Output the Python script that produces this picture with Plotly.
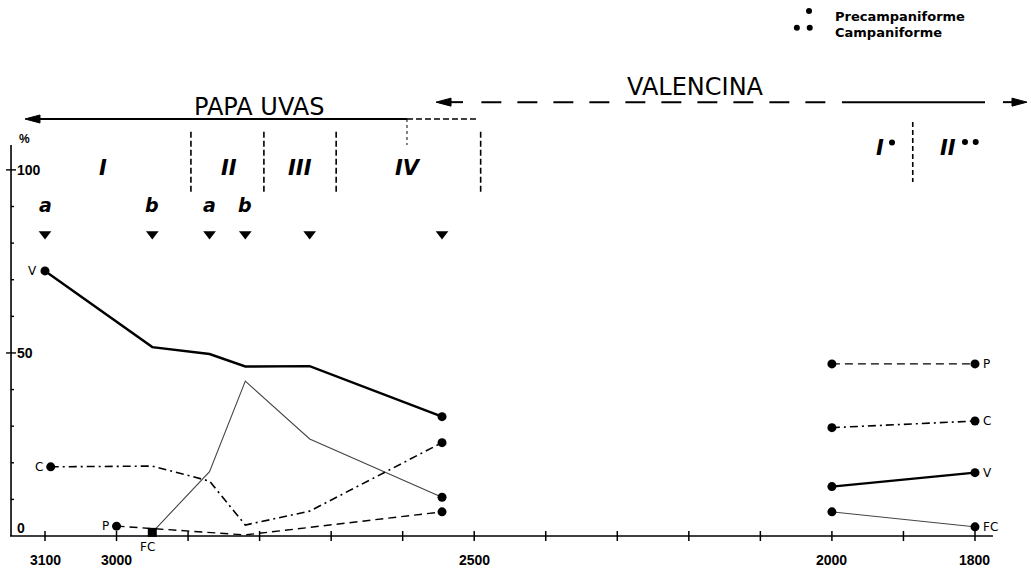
import plotly.graph_objects as go

# ---- data: Papa Uvas sequence (BC dates of samples, % values) ----
papa_years = [3100, 2950, 2870, 2820, 2730, 2545]
papa_v = [72.4, 51.6, 49.7, 46.3, 46.4, 32.6]
papa_c_years = [3092, 2950, 2870, 2820, 2730, 2545]
papa_c = [18.9, 19.1, 15.0, 3.0, 6.8, 25.5]
papa_fc_years = [2950, 2870, 2820, 2730, 2545]
papa_fc = [1.0, 17.6, 42.3, 26.5, 10.6]
papa_p_years = [3000, 2820, 2545]
papa_p = [2.7, 0.3, 6.6]

# ---- data: Valencina ----
val_years = [2000, 1800]
val_v = [13.5, 17.3]
val_fc = [6.6, 2.5]
val_c = [29.6, 31.4]
val_p = [47.0, 47.0]

sample_letters = ["a", "b", "a", "b"]
x_ticks = list(range(3100, 1799, -100))
x_labels = ["3100", "3000", "2500", "2000", "1800"]
y_ticks = list(range(10, 101, 10))
y_labels = ["0", "50", "100"]

papa_phases = ["I", "II", "III", "IV"]
papa_phase_x = [3019, 2843, 2744, 2593]
papa_bounds = [2896, 2794, 2693, 2491]
val_phases = ["I", "II"]
val_phase_x = [1933, 1838]
val_bound = 1887
# dots marking pre-Beaker (one) and Beaker (two) phases
phase_dot_x = [1916, 1814, 1799]
phase_dot_y = [107.5, 107.6, 107.6]
key_dot_x = [2032, 2049, 2031]
key_dot_y = [143.4, 138.8, 138.8]
key_labels = ["Precampaniforme", "Campaniforme"]

INK = "#000000"
X_RANGE = [3162.9, 1721.7]
Y_RANGE = [-10.1, 146.4]
AXIS_X = 3147.5

fig = go.Figure()


def series(x, y, width, dash, color=INK, symbols=None):
    fig.add_trace(go.Scatter(
        x=x, y=y, mode="lines", cliponaxis=False,
        line=dict(color=color, width=width, dash=dash),
        hoverinfo="skip", showlegend=False))
    fig.add_trace(go.Scatter(
        x=[x[0], x[-1]], y=[y[0], y[-1]], mode="markers", cliponaxis=False,
        marker=dict(color=INK, size=9, opacity=1,
                    symbol=symbols or "circle", line=dict(width=0)),
        hoverinfo="skip", showlegend=False))


DASHDOT = "8px,4px,2px,4px"
DASH = "8px,5px"

# Papa Uvas curves
series(papa_years, papa_v, 2.4, "solid")
series(papa_fc_years, papa_fc, 1.1, "solid", color="#444444", symbols=["square", "circle"])
series(papa_c_years, papa_c, 1.6, DASHDOT)
series(papa_p_years, papa_p, 1.4, DASH)

# Valencina curves
series(val_years, val_p, 1.3, DASH)
series(val_years, val_c, 1.6, DASHDOT)
series(val_years, val_v, 2.2, "solid")
series(val_years, val_fc, 1.0, "solid", color="#444444")

# sample markers (arrows above the curves)
fig.add_trace(go.Scatter(
    x=papa_years, y=[82.5] * len(papa_years), mode="markers",
    marker=dict(symbol="triangle-down", size=11, color=INK),
    hoverinfo="skip", showlegend=False, cliponaxis=False))

# phase dots and key dots
fig.add_trace(go.Scatter(
    x=phase_dot_x, y=phase_dot_y, mode="markers",
    marker=dict(symbol="circle", size=6, color=INK),
    hoverinfo="skip", showlegend=False, cliponaxis=False))
fig.add_trace(go.Scatter(
    x=key_dot_x, y=key_dot_y, mode="markers",
    marker=dict(symbol="circle", size=6, color=INK),
    hoverinfo="skip", showlegend=False, cliponaxis=False))

shapes = []
annotations = []


def hline(x0, x1, y, width=1.6, dash="solid"):
    shapes.append(dict(type="line", xref="x", yref="y", x0=x0, x1=x1, y0=y, y1=y,
                       line=dict(color=INK, width=width, dash=dash)))


def vline(x, y0, y1, width=1.5, dash="solid"):
    shapes.append(dict(type="line", xref="x", yref="y", x0=x, x1=x, y0=y0, y1=y1,
                       line=dict(color=INK, width=width, dash=dash)))


def arrowhead(x, y, direction):
    # filled head whose tip sits at (x, y); sizes in pixels
    s = 1 if direction == "left" else -1
    shapes.append(dict(type="path", xref="x", yref="y", xsizemode="pixel",
                       ysizemode="pixel", xanchor=x, yanchor=y,
                       path=f"M 0,0 L {15 * s},4 L {15 * s},-4 Z",
                       fillcolor=INK, line=dict(color=INK, width=1)))


# axes
hline(3148.9, 1774.9, 0, width=1.6)
vline(AXIS_X, 0, 106.8, width=1.6)
for t in x_ticks:
    shapes.append(dict(type="line", xref="x", yref="y", ysizemode="pixel",
                       yanchor=0, x0=t, x1=t, y0=-5, y1=5,
                       line=dict(color=INK, width=1.5)))
for t in y_ticks:
    major = t in (50, 100)
    shapes.append(dict(type="line", xref="x", yref="y", xsizemode="pixel",
                       xanchor=AXIS_X, x0=-5 if major else 0, x1=5 if major else 3,
                       y0=t, y1=t, line=dict(color=INK, width=1.4)))

tick_font = dict(family="Liberation Sans", size=14, color=INK)
for lab in x_labels:
    annotations.append(dict(x=int(lab), y=0, xref="x", yref="y", text=f"<b>{lab}</b>",
                            showarrow=False, yshift=-24, font=tick_font))
for lab in y_labels:
    annotations.append(dict(x=AXIS_X, y=int(lab), xref="x", yref="y",
                            text=f"<b>{lab}</b>",
                            showarrow=False, xanchor="left", xshift=4,
                            yshift=8 if lab == "0" else 0, font=tick_font))
annotations.append(dict(x=AXIS_X, y=106.8, xref="x", yref="y", text="<b>%</b>",
                        showarrow=False, xanchor="left", xshift=6, yshift=6,
                        font=dict(family="Liberation Sans", size=12, color=INK)))

# series labels
lab_font = dict(family="DejaVu Sans", size=12, color=INK)
left_labels = [("V", papa_years[0], papa_v[0]),
               ("C", papa_c_years[0], papa_c[0]),
               ("P", papa_p_years[0], papa_p[0])]
for txt, x, y in left_labels:
    annotations.append(dict(x=x, y=y, xref="x", yref="y", text=txt, showarrow=False,
                            xanchor="right", xshift=-6, font=lab_font))
annotations.append(dict(x=papa_fc_years[0], y=papa_fc[0], xref="x", yref="y", text="FC",
                        showarrow=False, xshift=-5, yshift=-15, font=lab_font))
right_labels = [("P", val_p[-1]), ("C", val_c[-1]), ("V", val_v[-1]), ("FC", val_fc[-1])]
for txt, y in right_labels:
    annotations.append(dict(x=val_years[-1], y=y, xref="x", yref="y", text=txt,
                            showarrow=False, xanchor="left", xshift=6, font=lab_font))

# phase boundaries and labels
for b in papa_bounds:
    vline(b, 110.4, 94.0, width=1.6, dash="6px,3px")
vline(val_bound, 113.1, 96.7, width=1.6, dash="5px,3px")
phase_font = dict(family="DejaVu Sans", size=21, color=INK)
for txt, x in zip(papa_phases, papa_phase_x):
    annotations.append(dict(x=x, y=100.4, xref="x", yref="y", text=f"<b><i>{txt}</i></b>",
                            showarrow=False, font=phase_font))
for txt, x in zip(val_phases, val_phase_x):
    annotations.append(dict(x=x, y=106.0, xref="x", yref="y", text=f"<b><i>{txt}</i></b>",
                            showarrow=False, font=phase_font))
for txt, x in zip(sample_letters, papa_years):
    annotations.append(dict(x=x, y=90.4, xref="x", yref="y", text=f"<b><i>{txt}</i></b>",
                            showarrow=False, font=dict(family="DejaVu Sans", size=19, color=INK)))

# site headers
head_font = dict(family="DejaVu Sans", size=24, color=INK)
annotations.append(dict(x=2801, y=117.2, xref="x", yref="y", text="PAPA UVAS",
                        showarrow=False, font=head_font))
arrowhead(3128, 113.9, "left")
hline(3110, 2594, 113.9, width=2)
hline(2594, 2496, 113.9, width=1.6, dash="6px,3px")
vline(2594, 113.9, 106.8, width=1.0, dash="3px,3px")

annotations.append(dict(x=2191, y=122.6, xref="x", yref="y", text="VALENCINA",
                        showarrow=False, font=head_font))
arrowhead(2553.4, 118.5, "left")
hline(2535, 2515.7, 118.5, width=2)
hline(2490, 1995, 118.5, width=2, dash="20px,16px")
hline(1986, 1786, 118.5, width=2)
arrowhead(1727.3, 118.5, "right")
hline(1745, 1760.9, 118.5, width=2)

# key
key_font = dict(family="DejaVu Sans", size=13, color=INK)
for txt, y in zip(key_labels, [142.0, 137.4]):
    annotations.append(dict(x=1999, y=y, xref="x", yref="y", text=f"<b>{txt}</b>",
                            showarrow=False, xanchor="left", font=key_font))

fig.update_layout(
    width=1031, height=573,
    margin=dict(l=0, r=0, t=0, b=0),
    paper_bgcolor="white", plot_bgcolor="white",
    xaxis=dict(range=X_RANGE, visible=False, fixedrange=True),
    yaxis=dict(range=Y_RANGE, visible=False, fixedrange=True),
    shapes=shapes, annotations=annotations,
    showlegend=False,
)

fig.write_html("out.html", config={"displayModeBar": False})
